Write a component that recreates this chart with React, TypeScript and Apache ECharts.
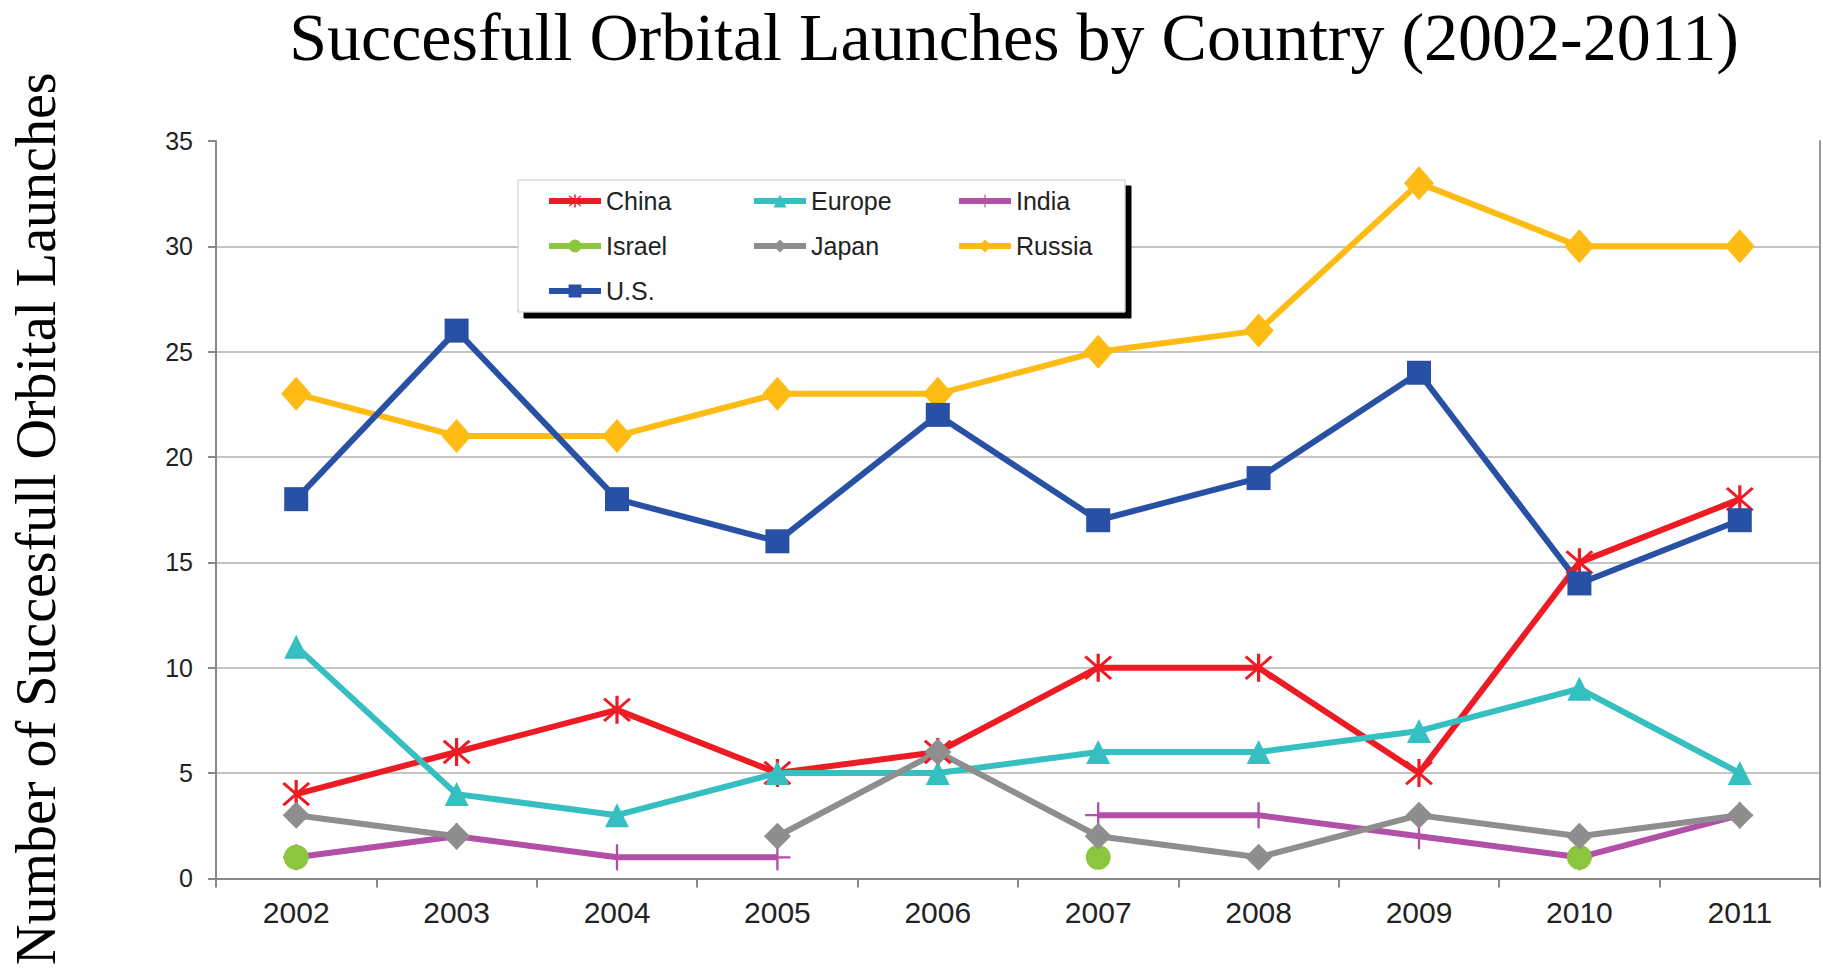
import React, { useEffect, useRef } from 'react';
import * as echarts from 'echarts';

const years = ['2002', '2003', '2004', '2005', '2006', '2007', '2008', '2009', '2010', '2011'];
const china = [4, 6, 8, 5, 6, 10, 10, 5, 15, 18];
const europe = [11, 4, 3, 5, 5, 6, 6, 7, 9, 5];
const india = [1, 2, 1, 1, null, 3, 3, 2, 1, 3];
const israel = [1, null, null, null, null, 1, null, null, 1, null];
const japan = [3, 2, null, 2, 6, 2, 1, 3, 2, 3];
const russia = [23, 21, 21, 23, 23, 25, 26, 33, 30, 30];
const us = [18, 26, 18, 16, 22, 17, 19, 24, 14, 17];

const yMin = 0;
const yMax = 35;
const yStep = 5;

const titleText = 'Succesfull Orbital Launches by Country (2002-2011)';
const yName = 'Number of Succesfull Orbital Launches';

const asterisk =
  'path://M9,0 L11,0 L11,20 L9,20 Z M1.3,2.7 L2.7,1.3 L18.7,17.3 L17.3,18.7 Z M17.3,1.3 L18.7,2.7 L2.7,18.7 L1.3,17.3 Z';
const plus =
  'path://M9.1,0 L10.9,0 L10.9,9.1 L20,9.1 L20,10.9 L10.9,10.9 L10.9,20 L9.1,20 L9.1,10.9 L0,10.9 L0,9.1 L9.1,9.1 Z';

export default function App() {
  const ref = useRef<HTMLDivElement>(null);
  useEffect(() => {
    if (!ref.current) return;
    const chart = echarts.init(ref.current, undefined, { renderer: 'svg' });
    const mk = (name: string, data: (number | null)[], color: string, symbol: string, symbolSize: any) => ({
      name,
      type: 'line',
      data,
      symbol,
      symbolSize,
      showAllSymbol: true,
      connectNulls: false,
      lineStyle: { width: 6, color },
      itemStyle: { color },
      emphasis: { disabled: true },
    });
    chart.setOption({
      animation: false,
      backgroundColor: '#fff',
      title: {
        text: titleText,
        left: 1014,
        top: 3,
        textAlign: 'center',
        padding: 0,
        textStyle: { fontFamily: 'Liberation Serif', fontSize: 68, fontWeight: 'normal', color: '#000' },
      },
      legend: {
        left: 518,
        top: 180,
        width: 580,
        orient: 'horizontal',
        padding: [6, 6, 6, 28],
        itemGap: 15,
        itemWidth: 52,
        itemHeight: 16,
        selectedMode: false,
        backgroundColor: '#fff',
        borderColor: '#c8c8c8',
        borderWidth: 1,
        shadowColor: '#000',
        shadowOffsetX: 6,
        shadowOffsetY: 6,
        shadowBlur: 0,
        lineStyle: { width: 6 },
        textStyle: { fontFamily: 'Liberation Sans', fontSize: 25, color: '#222', width: 130, lineHeight: 30 },
        data: [
          'China',
          'Europe',
          { name: 'India', textStyle: { width: 103 } },
          'Israel',
          'Japan',
          { name: 'Russia', textStyle: { width: 103 } },
          'U.S.',
        ],
      },
      grid: { left: 216, right: 3, top: 141, bottom: 88, containLabel: false },
      xAxis: {
        type: 'category',
        data: years,
        boundaryGap: true,
        axisLine: { lineStyle: { color: '#888', width: 2 } },
        axisTick: { show: true, length: 9, lineStyle: { color: '#888', width: 2 } },
        axisLabel: { fontFamily: 'Liberation Sans', fontSize: 30, color: '#222', margin: 19 },
        splitLine: { show: false },
      },
      yAxis: [
        {
          type: 'value',
          min: yMin,
          max: yMax,
          interval: yStep,
          name: yName,
          nameLocation: 'middle',
          nameRotate: 90,
          nameGap: 152,
          nameTextStyle: { fontFamily: 'Liberation Serif', fontSize: 56, color: '#000', padding: [0, 18, 0, 0] },
          axisLine: { show: true, lineStyle: { color: '#888', width: 2 } },
          axisTick: { show: true, length: 8, lineStyle: { color: '#888', width: 2 } },
          axisLabel: { fontFamily: 'Liberation Sans', fontSize: 25, color: '#222', margin: 23 },
          splitLine: { show: true, showMaxLine: false, showMinLine: false, lineStyle: { color: '#c4c4c4', width: 2 } },
        },
        {
          type: 'value',
          position: 'right',
          min: yMin,
          max: yMax,
          interval: yStep,
          axisLine: { show: true, lineStyle: { color: '#999', width: 2 } },
          axisTick: { show: false },
          axisLabel: { show: false },
          splitLine: { show: false },
        },
      ],
      series: [
        mk('China', china, '#ED1C24', asterisk, 28),
        mk('Europe', europe, '#36BFC0', 'triangle', 24),
        mk('India', india, '#B24FA6', plus, 26),
        mk('Israel', israel, '#8CC63E', 'circle', 25),
        mk('Japan', japan, '#8E8E8E', 'diamond', 27),
        mk('Russia', russia, '#FDBB13', 'diamond', [30, 34]),
        mk('U.S.', us, '#2850A4', 'rect', 24),
      ],
    });
    return () => chart.dispose();
  }, []);
  return <div ref={ref} style={{ position: 'absolute', left: 0, top: 0, width: 1823, height: 968 }} />;
}
